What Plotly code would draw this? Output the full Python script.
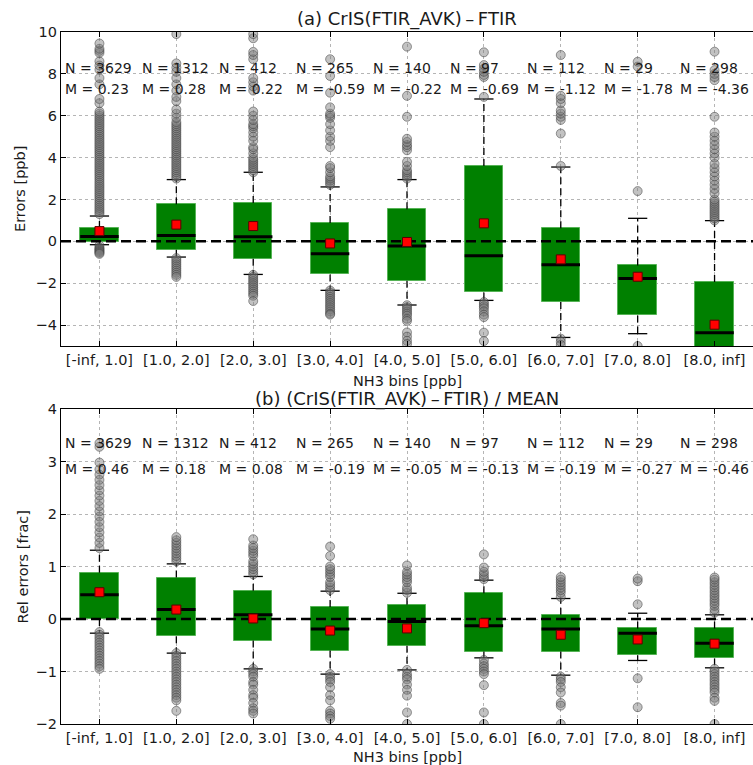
import plotly.graph_objects as go

BINS = ["[-inf, 1.0]", "[1.0, 2.0]", "[2.0, 3.0]", "[3.0, 4.0]", "[4.0, 5.0]",
        "[5.0, 6.0]", "[6.0, 7.0]", "[7.0, 8.0]", "[8.0, inf]"]
N_COUNTS = [3629, 1312, 412, 265, 140, 97, 112, 29, 298]

# Panel (a): absolute errors [ppb]
Q1_A = [-0.03, -0.40, -0.83, -1.58, -1.88, -2.44, -2.90, -3.54, -6.5]
MED_A = [0.23, 0.28, 0.22, -0.59, -0.22, -0.69, -1.12, -1.78, -4.36]
Q3_A = [0.64, 1.77, 1.83, 0.88, 1.53, 3.60, 0.62, -1.15, -1.94]
LOW_A = [-0.16, -0.75, -1.58, -2.34, -3.04, -2.82, -4.59, -4.41, -9.0]
HIGH_A = [1.21, 2.95, 3.30, 2.60, 2.95, 6.80, 3.55, 1.10, 0.99]
MEAN_A = [0.49, 0.80, 0.73, -0.10, -0.03, 0.86, -0.86, -1.69, -3.98]
OUT_A = [
    [1.3, 1.4, 1.5, 1.6, 1.7, 1.8, 1.9, 2.0, 2.1, 2.2, 2.3, 2.4, 2.5, 2.6, 2.7, 2.8, 2.9, 3.0,
     3.1, 3.2, 3.3, 3.4, 3.5, 3.6, 3.7, 3.8, 3.9, 4.0, 4.1, 4.2, 4.3, 4.4, 4.5, 4.6, 4.7, 4.8,
     4.9, 5.0, 5.1, 5.2, 5.3, 5.4, 5.5, 5.6, 5.7, 5.8, 5.9, 6.0, 6.1, 6.2, 6.6, 6.8, 7.5, 7.8,
     8.2, 8.4, 8.6, 9.0, 9.1, 9.2, 9.45,
     -0.2, -0.3, -0.35, -0.4, -0.45, -0.5, -0.55, -0.6],
    [3.0, 3.1, 3.2, 3.3, 3.4, 3.5, 3.6, 3.7, 3.8, 3.9, 4.0, 4.1, 4.2, 4.3, 4.4, 4.5, 4.6, 4.7,
     4.8, 4.9, 5.0, 5.1, 5.2, 5.3, 5.4, 5.5, 5.6, 5.7, 5.9, 6.1, 6.3, 6.7, 6.9, 7.2, 7.5, 7.8,
     8.1, 8.3, 8.5, 9.9,
     -0.8, -0.9, -1.0, -1.1, -1.2, -1.3, -1.4, -1.5, -1.6, -1.7],
    [3.3, 3.4, 3.5, 3.6, 3.7, 3.8, 3.9, 4.0, 4.2, 4.4, 4.5, 4.8, 5.0, 5.2, 5.4, 5.5, 5.6, 5.8,
     6.0, 6.2, 7.2, 7.4, 7.6, 7.8, 8.7, 8.9, 9.05, 9.7, 9.9,
     -1.6, -1.7, -1.8, -1.9, -2.0, -2.1, -2.2, -2.3, -2.4, -2.5, -2.6, -2.85],
    [2.7, 2.8, 2.9, 3.0, 3.1, 3.3, 3.5, 3.6, 4.5, 4.8, 5.0, 5.3, 5.6, 5.9, 6.0, 6.1, 6.4,
     7.1, 7.9, 8.7,
     -2.35, -2.45, -2.55, -2.65, -2.75, -2.85, -2.95, -3.05, -3.15, -3.25, -3.35, -3.45, -3.5],
    [3.0, 3.1, 3.2, 3.3, 3.4, 3.6, 3.8, 4.35, 4.5, 4.6, 4.75, 4.9, 5.95, 6.95, 9.3,
     -3.05, -3.15, -3.25, -3.35, -3.45, -3.55, -3.7, -3.8, -4.35, -4.55, -4.75, -4.9],
    [6.9, 7.85, 7.95, 8.1, 8.25, 8.42, 9.03,
     -2.9, -3.0, -3.1, -3.2, -3.35, -3.5, -3.62, -4.36, -4.76],
    [3.6, 5.15, 5.8, 5.95, 6.1, 6.25, 6.6, 6.8, 6.95, 8.9,
     -4.65, -4.8, -4.95],
    [2.4, 8.35, 8.58, -5.0],
    [1.0, 1.1, 1.2, 1.3, 1.4, 1.5, 1.6, 1.7, 1.8, 1.9, 2.0, 2.3, 2.5, 2.7, 2.9, 3.1, 3.3, 3.5,
     3.7, 4.0, 4.2, 4.4, 4.6, 4.8, 5.0, 5.2, 5.95, 7.7, 7.85, 8.0, 8.18, 9.06],
]

# Panel (b): relative errors [frac]
Q1_B = [0.0, -0.33, -0.41, -0.60, -0.51, -0.62, -0.62, -0.69, -0.75]
MED_B = [0.46, 0.18, 0.08, -0.19, -0.05, -0.13, -0.19, -0.27, -0.46]
Q3_B = [0.88, 0.79, 0.54, 0.23, 0.27, 0.49, 0.08, -0.18, -0.18]
LOW_B = [-0.27, -0.65, -0.95, -1.05, -0.97, -0.74, -1.07, -0.79, -0.93]
HIGH_B = [1.31, 1.05, 0.81, 0.53, 0.49, 0.74, 0.39, 0.11, 0.08]
MEAN_B = [0.51, 0.18, 0.01, -0.22, -0.18, -0.08, -0.30, -0.39, -0.47]
OUT_B = [
    [1.35, 1.45, 1.55, 1.65, 1.75, 1.85, 1.95, 2.05, 2.15, 2.25, 2.35, 2.45, 2.55, 2.65, 2.75,
     2.85, 2.98, 3.28, 3.35,
     -0.25, -0.3, -0.35, -0.4, -0.45, -0.5, -0.55, -0.6, -0.65, -0.7, -0.75, -0.8, -0.85, -0.9, -0.95],
    [1.1, 1.15, 1.2, 1.25, 1.3, 1.35, 1.4, 1.45, 1.5, 1.56,
     -0.65, -0.7, -0.75, -0.8, -0.85, -0.9, -0.95, -1.0, -1.05, -1.1, -1.15, -1.2, -1.25, -1.3,
     -1.35, -1.4, -1.45, -1.5, -1.55, -1.75],
    [0.85, 0.9, 0.95, 1.0, 1.05, 1.1, 1.2, 1.25, 1.3, 1.35, 1.4, 1.52,
     -0.95, -1.0, -1.05, -1.1, -1.2, -1.25, -1.35, -1.45, -1.5, -1.6, -1.7, -1.75, -1.8],
    [0.55, 0.6, 0.65, 0.7, 0.8, 0.85, 0.9, 0.95, 1.0, 1.2, 1.38,
     -1.05, -1.1, -1.15, -1.2, -1.3, -1.45, -1.55, -1.75, -1.8, -1.85, -1.9],
    [0.5, 0.55, 0.6, 0.7, 0.75, 0.8, 0.85, 0.9, 1.02,
     -0.97, -1.05, -1.1, -1.15, -1.25, -1.35, -1.46, -1.78, -2.0],
    [0.76, 0.8, 0.85, 0.9, 0.98, 1.23,
     -0.78, -0.85, -0.9, -0.95, -1.0, -1.05, -1.26, -1.78, -2.0],
    [0.42, 0.5, 0.55, 0.6, 0.65, 0.7, 0.75, 0.8,
     -1.1, -1.15, -1.2, -1.3, -1.4, -1.6, -1.65, -2.0],
    [0.28, 0.72, 0.77, -1.13, -1.68],
    [0.12, 0.18, 0.25, 0.3, 0.35, 0.4, 0.45, 0.5, 0.55, 0.6, 0.65, 0.7, 0.75, 0.79,
     -0.95, -1.0, -1.05, -1.1, -1.15, -1.2, -1.25, -1.3, -1.35, -1.4, -1.5, -1.56, -2.0],
]

# ---------------------------------------------------------------- styling
X_LO, X_HI = 0.5, 9.5
BOX_W = 0.5
CAP_W = 0.25
FONT = "DejaVu Sans, Bitstream Vera Sans, sans-serif"
TXT = "#1a1a1a"
FS = 14
FS_TICK = 14.5
FS_AX = 14.5
FS_TITLE = 18

fig = go.Figure()
pos = list(range(1, len(BINS) + 1))


def add_panel(q1, med, q3, lo, hi, mean, outs, xa, ya):
    # boxes
    fig.add_trace(go.Bar(
        x=pos, y=[b - a for a, b in zip(q1, q3)], base=q1, width=BOX_W,
        marker=dict(color="#008000", line=dict(color="#55b355", width=1)),
        xaxis=xa, yaxis=ya, showlegend=False, hoverinfo="skip"))
    # whiskers (dashed)
    wx, wy = [], []
    for p, a, b, l, h in zip(pos, q1, q3, lo, hi):
        wx += [p, p, None, p, p, None]
        wy += [b, h, None, a, l, None]
    fig.add_trace(go.Scatter(x=wx, y=wy, mode="lines",
                             line=dict(color="black", width=1.3, dash="7px,4px"),
                             xaxis=xa, yaxis=ya, showlegend=False, hoverinfo="skip"))
    # caps
    cx, cy = [], []
    for p, l, h in zip(pos, lo, hi):
        cx += [p - CAP_W / 2, p + CAP_W / 2, None, p - CAP_W / 2, p + CAP_W / 2, None]
        cy += [h, h, None, l, l, None]
    fig.add_trace(go.Scatter(x=cx, y=cy, mode="lines",
                             line=dict(color="black", width=1.3),
                             xaxis=xa, yaxis=ya, showlegend=False, hoverinfo="skip"))
    # outliers
    ox, oy = [], []
    for p, vals in zip(pos, outs):
        ox += [p] * len(vals)
        oy += vals
    fig.add_trace(go.Scatter(x=ox, y=oy, mode="markers",
                             marker=dict(symbol="circle", size=9,
                                         color="rgba(120,120,120,0.45)",
                                         line=dict(color="rgba(60,60,60,0.5)", width=1)),
                             xaxis=xa, yaxis=ya, showlegend=False, hoverinfo="skip"))
    # zero reference line
    fig.add_trace(go.Scatter(x=[X_LO, X_HI], y=[0, 0], mode="lines",
                             line=dict(color="black", width=2.5, dash="10px,5px"),
                             xaxis=xa, yaxis=ya, showlegend=False, hoverinfo="skip"))
    # medians
    mx, my = [], []
    for p, m in zip(pos, med):
        mx += [p - BOX_W / 2, p + BOX_W / 2, None]
        my += [m, m, None]
    fig.add_trace(go.Scatter(x=mx, y=my, mode="lines",
                             line=dict(color="black", width=3),
                             xaxis=xa, yaxis=ya, showlegend=False, hoverinfo="skip"))
    # means
    fig.add_trace(go.Scatter(x=pos, y=mean, mode="markers",
                             marker=dict(symbol="square", size=9, color="red",
                                         line=dict(color="#5a0000", width=1)),
                             xaxis=xa, yaxis=ya, showlegend=False, hoverinfo="skip"))


add_panel(Q1_A, MED_A, Q3_A, LOW_A, HIGH_A, MEAN_A, OUT_A, "x", "y")
add_panel(Q1_B, MED_B, Q3_B, LOW_B, HIGH_B, MEAN_B, OUT_B, "x2", "y2")

# N / M labels
ann = []
for (xr, yr, meds, yn, ym) in [("x", "y", MED_A, 8.27, 7.26), ("x2", "y2", MED_B, 3.35, 2.85)]:
    for p, n, m in zip(pos, N_COUNTS, meds):
        ann.append(dict(x=p - 0.47, y=yn, xref=xr, yref=yr, text=f"N = {n}",
                        xanchor="left", yanchor="middle", showarrow=False,
                        font=dict(family=FONT, size=FS, color=TXT)))
        ann.append(dict(x=p - 0.47, y=ym, xref=xr, yref=yr, text=f"M = {m:.2f}",
                        xanchor="left", yanchor="middle", showarrow=False,
                        font=dict(family=FONT, size=FS, color=TXT)))

TOP_LO, BOT_HI = 0.5462, 0.4552
titles = [
    dict(text="(a) CrIS(FTIR_AVK)\u2009\u2013\u2009FTIR", x=0.5, y=1.0, yshift=13, size=FS_TITLE),
    dict(text="NH3 bins [ppb]", x=0.5, y=TOP_LO, yshift=-35, size=FS_AX),
    dict(text="(b) (CrIS(FTIR_AVK)\u2009\u2013\u2009FTIR) / MEAN", x=0.5, y=BOT_HI, yshift=10,
         size=FS_TITLE),
    dict(text="NH3 bins [ppb]", x=0.5, y=0.0, yshift=-33, size=FS_AX),
]
for t in titles:
    size = t.pop("size")
    ann.append(dict(xref="paper", yref="paper", xanchor="center", yanchor="middle",
                    showarrow=False, font=dict(family=FONT, size=size, color=TXT), **t))
ann.append(dict(text="Errors [ppb]", xref="paper", yref="paper", x=0, y=(TOP_LO + 1) / 2,
                xshift=-41, textangle=-90, showarrow=False, xanchor="center", yanchor="middle",
                font=dict(family=FONT, size=FS_AX, color=TXT)))
ann.append(dict(text="Rel errors [frac]", xref="paper", yref="paper", x=0, y=BOT_HI / 2,
                xshift=-38, textangle=-90, showarrow=False, xanchor="center", yanchor="middle",
                font=dict(family=FONT, size=FS_AX, color=TXT)))

xcommon = dict(range=[X_LO, X_HI], tickvals=pos, ticktext=BINS, ticks="inside", ticklen=5,
               tickcolor="black", showline=True, linecolor="black", linewidth=1.3,
               mirror="ticks", showgrid=True, gridcolor="#b5b5b5", griddash="dot",
               gridwidth=1, zeroline=False,
               tickfont=dict(family=FONT, size=FS_TICK, color=TXT))
ycommon = dict(ticks="inside", ticklen=5, tickcolor="black", showline=True,
               linecolor="black", linewidth=1.3, showgrid=True, gridcolor="#b5b5b5",
               griddash="dot", gridwidth=1, zeroline=False,
               tickfont=dict(family=FONT, size=FS_TICK, color=TXT))

fig.update_layout(
    width=753, height=765,
    margin=dict(l=61, r=0, t=32, b=41),
    paper_bgcolor="white", plot_bgcolor="white",
    showlegend=False, bargap=0,
    xaxis=dict(domain=[0, 1], anchor="y", **xcommon),
    yaxis=dict(domain=[TOP_LO, 1.0], anchor="x", range=[-5, 10], tickvals=[-4, -2, 0, 2, 4, 6, 8, 10],
               **ycommon),
    xaxis2=dict(domain=[0, 1], anchor="y2", **xcommon),
    yaxis2=dict(domain=[0, BOT_HI], anchor="x2", range=[-2, 4], tickvals=[-2, -1, 0, 1, 2, 3, 4],
                **ycommon),
    annotations=ann,
)

# remove the browser's default 8px page margin so the figure fills the window exactly
fig.write_html("out.html",
               config={"displayModeBar": False},
               post_script="document.body.style.margin='0';"
                           "document.body.style.overflow='hidden';")
